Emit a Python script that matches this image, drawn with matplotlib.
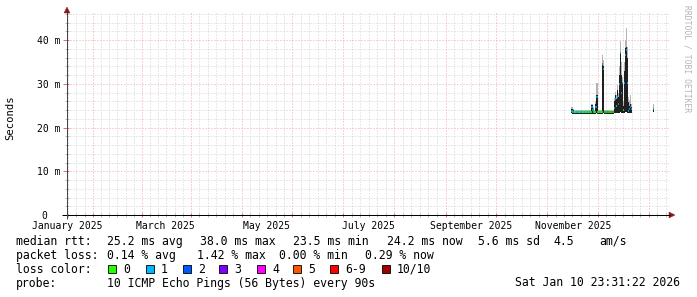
import matplotlib
matplotlib.use("Agg")
import matplotlib.pyplot as plt
from matplotlib.patches import Rectangle, Polygon
from matplotlib.transforms import blended_transform_factory

W, H = 697, 297
MONO = "DejaVu Sans Mono"

# ---------------- data ----------------
# x: days since 2025-01-01
month_start_days = [0, 59, 120, 181, 243, 304]
month_labels = ["January 2025", "March 2025", "May 2025", "July 2025",
                "September 2025", "November 2025"]
month_lengths = [31, 28, 31, 30, 31, 30, 31, 31, 30, 31, 30, 31]
y_ticks = [0, 10, 20, 30, 40]
y_tick_labels = ["0  ", "10 m", "20 m", "30 m", "40 m"]

day = [303.5, 304.1, 304.7, 305.3, 305.9, 306.5, 307.1, 307.7, 308.3, 308.9,
       309.5, 310.1, 310.7, 311.3, 311.9, 312.5, 313.1, 313.7, 314.3, 314.9,
       315.5, 316.1, 316.7, 317.3, 317.9, 318.5, 319.1, 319.7, 320.3, 320.9,
       321.5, 322.1, 322.7, 323.3, 323.9, 324.5, 325.1, 325.7, 326.3, 326.9,
       327.5, 328.1, 328.7, 329.3, 329.9, 330.5, 331.1, 331.7, 332.3, 332.9,
       333.5, 334.1, 334.7, 335.3, 335.9, 336.5, 337.1, 337.7, 338.3, 338.9,
       339.5, 352.2]
# median rtt (ms)
median_ms = [23.9, 23.6, 23.6, 23.6, 23.6, 23.6, 23.6, 23.6, 23.6, 23.6,
             23.6, 23.6, 23.6, 23.6, 23.6, 23.6, 23.6, 23.6, 23.6, 23.6,
             24.6, 24.0, 23.6, 23.6, 24.8, 27.0, 23.6, 23.6, 23.6, 23.6,
             23.6, 34.6, 33.5, 23.6, 23.6, 23.6, 23.6, 23.6, 23.6, 23.6,
             23.6, 23.6, 23.6, 24.5, 26.5, 25.0, 27.0, 25.5, 30.0, 37.0,
             28.0, 30.1, 24.0, 30.2, 36.6, 37.8, 30.2, 23.8, 24.2, 24.8,
             24.2, 24.2]
# smoke: lowest ping, dense part top, highest ping (ms)
smoke_lo = [23.3, 23.2, 23.2, 23.2, 23.2, 23.2, 23.2, 23.2, 23.2, 23.2,
            23.2, 23.2, 23.2, 23.2, 23.2, 23.2, 23.2, 23.2, 23.2, 23.2,
            23.3, 23.2, 23.2, 23.2, 23.3, 23.3, 23.2, 23.2, 23.2, 23.2,
            23.2, 23.4, 23.4, 23.2, 23.2, 23.2, 23.2, 23.2, 23.2, 23.2,
            23.2, 23.2, 23.2, 23.3, 23.4, 23.3, 23.4, 23.3, 23.4, 23.5,
            23.4, 23.4, 23.3, 23.4, 23.5, 23.5, 23.4, 23.3, 23.3, 23.3,
            23.3, 23.6]
smoke_dark = [24.3, 24.0, 23.9, 23.9, 23.9, 23.9, 23.9, 23.9, 23.9, 23.9,
              23.9, 23.9, 23.9, 23.9, 23.9, 23.9, 23.9, 23.9, 23.9, 23.9,
              25.1, 24.3, 23.9, 23.9, 25.5, 27.4, 23.9, 23.9, 23.9, 23.9,
              23.9, 34.8, 34.0, 23.9, 23.9, 23.9, 23.9, 23.9, 23.9, 23.9,
              23.9, 23.9, 23.9, 26.0, 27.4, 26.5, 28.5, 27.0, 32.0, 37.3,
              32.0, 30.5, 25.0, 33.0, 38.2, 38.5, 36.0, 25.9, 25.0, 25.4,
              24.6, 24.5]
smoke_top = [24.6, 24.2, 24.1, 24.1, 24.1, 24.1, 24.1, 24.1, 24.1, 24.1,
             24.1, 24.1, 24.1, 24.1, 24.1, 24.1, 24.1, 24.1, 24.1, 24.1,
             25.3, 24.6, 24.1, 24.1, 26.0, 30.1, 24.1, 24.1, 24.1, 24.1,
             24.1, 36.6, 35.4, 24.1, 24.1, 24.1, 24.1, 24.1, 24.1, 24.1,
             24.1, 24.1, 24.1, 26.8, 28.2, 27.5, 29.7, 28.0, 34.0, 39.8,
             35.0, 31.5, 26.0, 35.0, 40.0, 42.7, 38.5, 27.0, 26.3, 27.4,
             25.5, 25.5]
# lost pings out of 10 per sample
loss = [1, 1, 1, 0, 0, 1, 1, 0, 0, 1,
        1, 0, 0, 1, 0, 0, 1, 0, 1, 0,
        1, 1, 0, 0, 1, 1, 0, 0, 1, 0,
        0, 1, 1, 0, 0, 0, 1, 0, 0, 0,
        0, 0, 0, 1, 1, 0, 1, 1, 1, 1,
        1, 1, 0, 1, 1, 1, 1, 1, 1, 1,
        1, 1]

loss_labels = ["0", "1", "2", "3", "4", "5", "6-9", "10/10"]
loss_colors = ["#26ff00", "#00b8ff", "#0059ff", "#7e00ff", "#ff00ff",
               "#ff5500", "#ff0000", "#a10000"]

stats_rtt = ["25.2 ms avg", "38.0 ms max", "23.5 ms min", "24.2 ms now",
             "5.6 ms sd", "4.5", "am/s"]
stats_loss = ["0.14 % avg", "1.42 % max", "0.00 % min", "0.29 % now"]
probe_text = "10 ICMP Echo Pings (56 Bytes) every 90s"
stamp_text = "Sat Jan 10 23:31:22 2026"

# ---------------- layout ----------------
X0, X1 = 67, 669      # plot area in px
Y0, Y1 = 215, 13
PX_PER_DAY = 1.664
XMAX = (X1 - X0) / PX_PER_DAY
YMAX = 46.2

fig = plt.figure(figsize=(W / 100, H / 100), dpi=100)
fig.patch.set_facecolor("white")
ax = fig.add_axes([X0 / W, (H - Y0) / H, (X1 - X0) / W, (Y0 - Y1) / H])
ax.set_xlim(0, XMAX)
ax.set_ylim(0, YMAX)
ax.set_facecolor("white")
for s in ax.spines.values():
    s.set_visible(False)

MINOR_C = "#d2d2d2"
MAJOR_C = "#f2a8a8"
PX = 0.72  # one pixel in points
dots = (0, (1, 2))

# vertical grid: red at mid-month, gray subdivisions
starts = [0]
for L in month_lengths:
    starts.append(starts[-1] + L)
mids = [starts[i] + month_lengths[i] / 2 for i in range(12)]
major_x = [m for m in mids if 0 < m < XMAX]
minor_x = []
prev = mids[0] - (mids[1] - mids[0])
allm = [prev] + mids + [mids[-1] + 31]
for a, b in zip(allm[:-1], allm[1:]):
    for k in range(1, 6):
        v = a + (b - a) * k / 6
        if 0 < v < XMAX:
            minor_x.append(v)

major_y = [10, 20, 30, 40]
minor_y = [v for v in range(2, 47, 2) if v % 10 != 0 and v <= YMAX]

for v in minor_x:
    ax.axvline(v, color=MINOR_C, lw=PX, ls=dots, zorder=1)
for v in minor_y:
    ax.axhline(v, color=MINOR_C, lw=PX, ls=dots, zorder=1)
for v in major_x:
    ax.axvline(v, color=MAJOR_C, lw=PX, ls=dots, zorder=1.5)
for v in major_y:
    ax.axhline(v, color=MAJOR_C, lw=PX, ls=dots, zorder=1.5)

# small ticks across the axes
bx = blended_transform_factory(ax.transData, ax.transAxes)
by = blended_transform_factory(ax.transAxes, ax.transData)
tx = 2 / (Y0 - Y1)
ty = 2 / (X1 - X0)
ax.vlines(minor_x, -tx, tx, colors="#b8b8b8", lw=PX, transform=bx, clip_on=False, zorder=3)
ax.vlines(major_x, -tx, tx, colors="#e07070", lw=PX, transform=bx, clip_on=False, zorder=3)
ax.hlines(minor_y, -ty, ty, colors="#b8b8b8", lw=PX, transform=by, clip_on=False, zorder=3)
ax.hlines(major_y + [0], -ty * 1.8, ty, colors="#e07070", lw=PX, transform=by, clip_on=False, zorder=3)

# smoke
bw = 1 / PX_PER_DAY * 1.05
ax.bar(day, [t - l for t, l in zip(smoke_top, smoke_lo)], bottom=smoke_lo,
       width=bw, color="#b4b4b4", linewidth=0, zorder=4)
ax.bar(day, [t - l for t, l in zip(smoke_dark, smoke_lo)], bottom=smoke_lo,
       width=bw, color="#202020", linewidth=0, zorder=5)
# median, coloured by loss
for d, m, l in zip(day, median_ms, loss):
    ax.hlines(m, d - bw / 2, d + bw / 2, colors=loss_colors[l], lw=1.5 * PX, zorder=6)

# tick labels
ax.set_xticks(month_start_days)
ax.set_xticklabels(month_labels, fontfamily=MONO, fontsize=7)
ax.set_yticks(y_ticks)
ax.set_yticklabels(y_tick_labels, fontfamily=MONO, fontsize=7)
ax.tick_params(axis="x", length=0, pad=4.0, colors="#000000")
ax.tick_params(axis="y", length=0, pad=5.0, colors="#000000")

# ---------------- overlay in pixel coordinates ----------------
ov = fig.add_axes([0, 0, 1, 1], zorder=10)
ov.set_xlim(0, W)
ov.set_ylim(H, 0)
ov.axis("off")
ov.patch.set_alpha(0)

AX_C = "#000000"
ARROW_C = "#8c1a1a"
ov.plot([62, 670], [215, 215], color=AX_C, lw=PX, solid_capstyle="butt")
ov.plot([67, 67], [219, 12], color="#444444", lw=PX, solid_capstyle="butt")
ov.add_patch(Polygon([[669, 212], [675, 215], [669, 218]], closed=True,
                     facecolor=ARROW_C, edgecolor=ARROW_C, lw=0.3))
ov.add_patch(Polygon([[64, 13], [67, 7], [70, 13]], closed=True,
                     facecolor=ARROW_C, edgecolor=ARROW_C, lw=0.3))

ov.text(10, 118, "Seconds", rotation=90, ha="center", va="center",
        fontfamily=MONO, fontsize=7.6)
ov.text(687, 5, "RRDTOOL / TOBI OETIKER", rotation=270, ha="center", va="top",
        fontfamily=MONO, fontsize=5.8, color="#b4b4b4")

FS = 8.3
r1, r2, r3, r4 = 241.5, 255.3, 269.2, 283.0
ov.text(16, r1, "median rtt:", ha="left", va="center", fontfamily=MONO, fontsize=FS)
for x, s in zip([107, 200, 293, 386.7, 478, 553, 599], stats_rtt):
    ov.text(x, r1, s, ha="left", va="center", fontfamily=MONO, fontsize=FS)
ov.text(16, r2, "packet loss:", ha="left", va="center", fontfamily=MONO, fontsize=FS)
for x, s in zip([107, 196.7, 279.3, 365], stats_loss):
    ov.text(x, r2, s, ha="left", va="center", fontfamily=MONO, fontsize=FS)
ov.text(16, r3, "loss color:", ha="left", va="center", fontfamily=MONO, fontsize=FS)
box_x = [108, 146, 183, 219, 257, 293, 330, 382]
for bxp, lab, col in zip(box_x, loss_labels, loss_colors):
    ov.add_patch(Rectangle((bxp, r3 - 4.5), 8, 8, facecolor=col,
                           edgecolor="#000000", lw=0.6))
    ov.text(bxp + 15, r3, lab, ha="left", va="center", fontfamily=MONO, fontsize=FS)
ov.text(16, r4, "probe:", ha="left", va="center", fontfamily=MONO, fontsize=FS)
ov.text(107, r4, probe_text, ha="left", va="center", fontfamily=MONO, fontsize=FS)
ov.text(680, r4, stamp_text, ha="right", va="center", fontfamily=MONO, fontsize=FS)

fig.savefig("out.png", dpi=100, facecolor="white")
